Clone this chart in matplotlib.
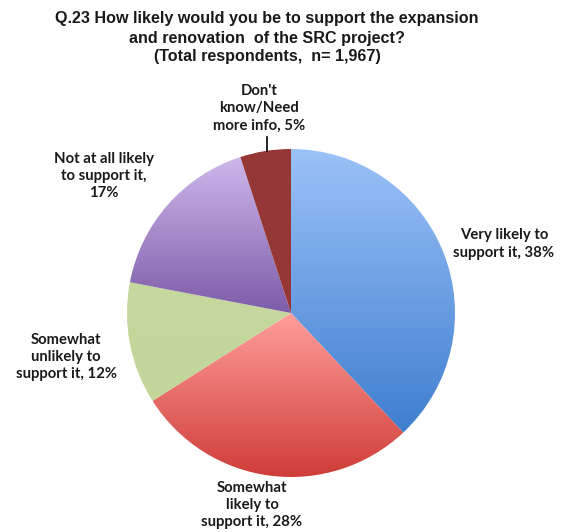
import matplotlib
matplotlib.use('Agg')
import matplotlib.pyplot as plt
import numpy as np
from matplotlib.colors import LinearSegmentedColormap
from matplotlib.lines import Line2D

W, H = 571, 532

labels = ['Very likely to\nsupport it, 38%',
          'Somewhat\nlikely to\nsupport it, 28%',
          'Somewhat\nunlikely to\nsupport it, 12%',
          'Not at all likely\nto support it,\n17%',
          "Don't\nknow/Need\nmore info, 5%"]
values = [38, 28, 12, 17, 5]
# top colour, bottom colour of each slice gradient
tops    = ['#9BC2F8', '#FF9E9B', '#C5D89D', '#CDB7EB', '#953735']
bottoms = ['#3F7ECF', '#CF3C37', '#C3D699', '#7D5CA8', '#953735']
# label centres in pixels
label_xy = [(504, 244), (252, 505), (66, 357), (104, 176), (259, 108)]

fig = plt.figure(figsize=(W / 100, H / 100), dpi=100)
fig.patch.set_facecolor('white')

cx, cy, r = 291, 313, 164
ax = fig.add_axes([(cx - r) / W, (H - cy - r) / H, 2 * r / W, 2 * r / H])
wedges, _ = ax.pie(values, startangle=90, counterclock=False,
                   colors=bottoms, radius=1)
ax.set_aspect('auto')
ax.axis('off')

grad = np.linspace(0, 1, 256).reshape(-1, 1)
for w, c0, c1 in zip(wedges, tops, bottoms):
    pts = w.get_patch_transform().transform(w.get_path().vertices)
    y0, y1 = pts[:, 1].min(), pts[:, 1].max()
    x0, x1 = pts[:, 0].min(), pts[:, 0].max()
    cmap = LinearSegmentedColormap.from_list('g', [c1, c0])
    im = ax.imshow(grad, cmap=cmap, extent=[x0, x1, y0, y1],
                   aspect='auto', origin='lower', zorder=2)
    im.set_clip_path(w)
    w.set_facecolor('none')
ax.set_xlim(-1, 1)
ax.set_ylim(-1, 1)

title = ['Q.23 How likely would you be to support the expansion',
         'and renovation  of the SRC project?',
         '(Total respondents,  n= 1,967)']
for i, t in enumerate(title):
    fig.text(267 / W, 1 - (19 + 19 * i) / H, t, ha='center', va='center',
             fontsize=11.6, fontweight='bold', family='Liberation Sans',
             color='#1a1a1a')

for lab, (x, y) in zip(labels, label_xy):
    fig.text(x / W, 1 - y / H, lab, ha='center', va='center',
             fontsize=10.7, fontweight='bold', family='Lato',
             linespacing=1.3, color='#1a1a1a')

fig.add_artist(Line2D([267 / W, 267 / W], [1 - 137 / H, 1 - 151 / H],
                      color='black', lw=1.2))

fig.savefig('out.png', dpi=100, facecolor='white')
